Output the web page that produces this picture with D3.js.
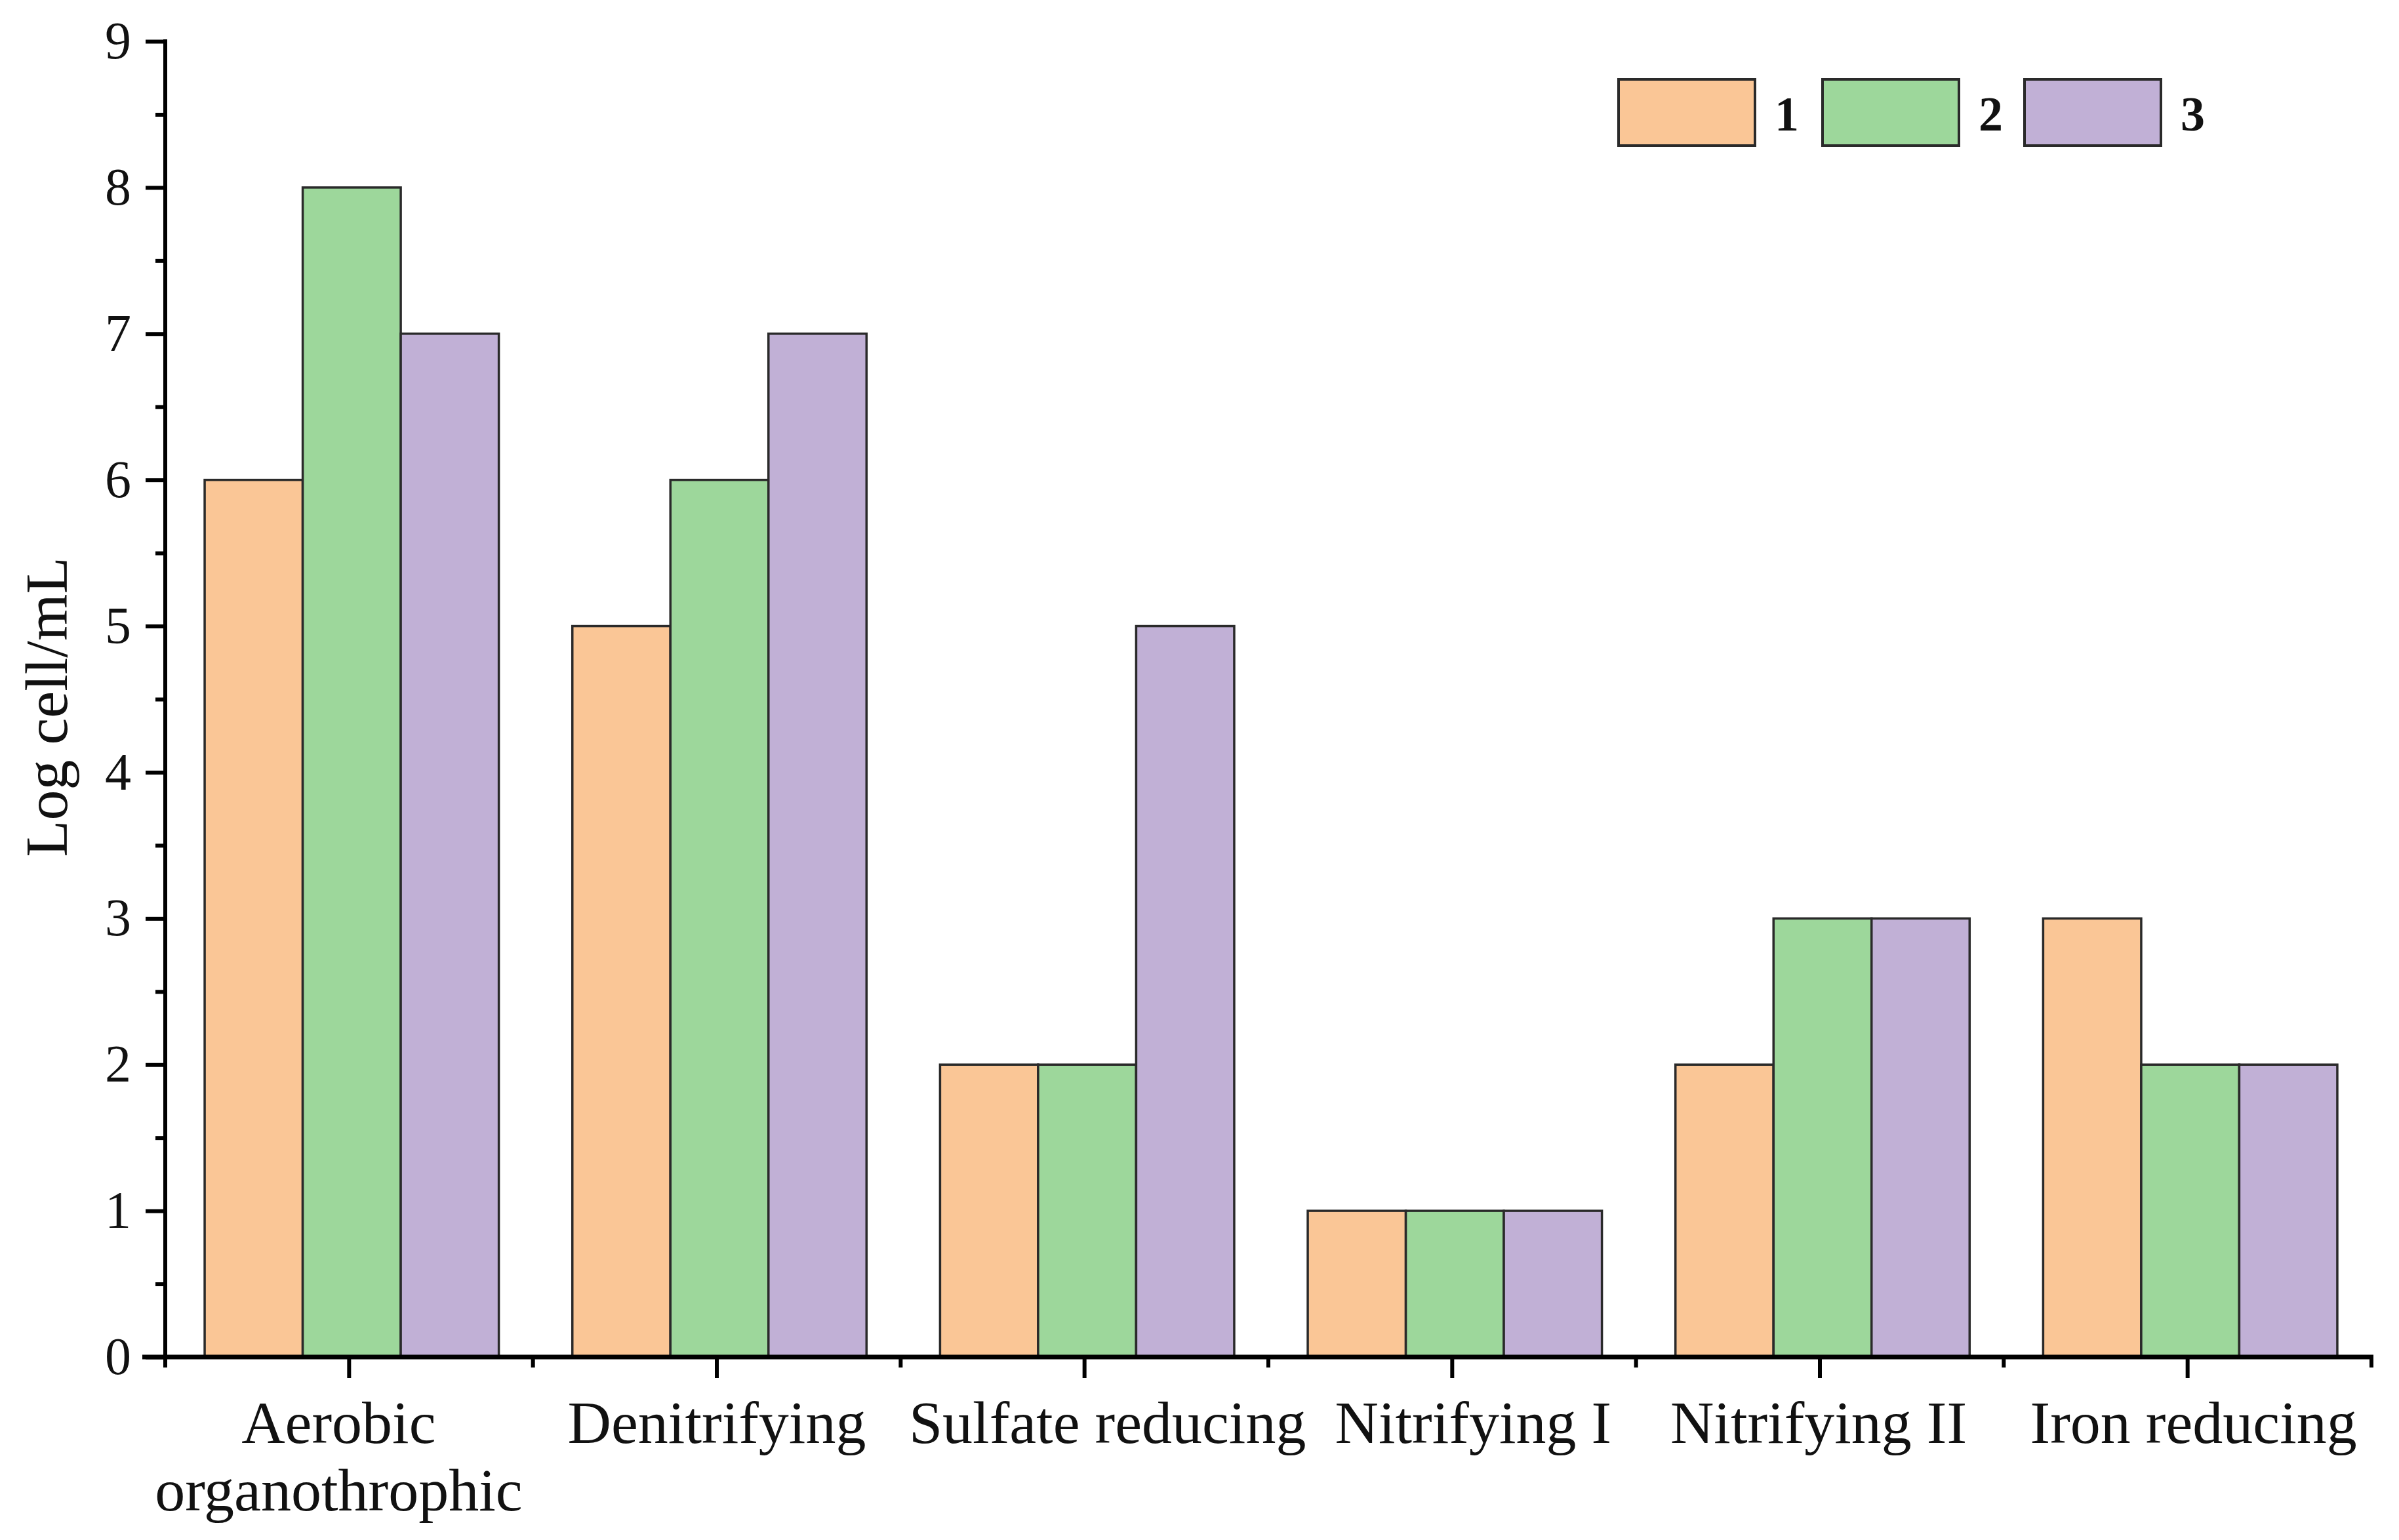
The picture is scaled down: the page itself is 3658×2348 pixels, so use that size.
<!DOCTYPE html>
<html>
<head>
<meta charset="utf-8">
<script src="https://cdn.jsdelivr.net/npm/d3@7"></script>
<style>
  html, body { margin: 0; padding: 0; background: #ffffff; }
  svg { display: block; }
</style>
</head>
<body>
<svg id="chart" width="3658" height="2348"></svg>
<script>
const categories = ["Aerobic organothrophic", "Denitrifying", "Sulfate reducing", "Nitrifying I", "Nitrifying II", "Iron reducing"];
const categoryLines = [["Aerobic", "organothrophic"], ["Denitrifying"], ["Sulfate reducing"], ["Nitrifying I"], ["Nitrifying II"], ["Iron reducing"]];
const seriesNames = ["1", "2", "3"];
const series1 = [6, 5, 2, 1, 2, 3];
const series2 = [8, 6, 2, 1, 3, 2];
const series3 = [7, 7, 5, 1, 3, 2];
const yTicks = [0, 1, 2, 3, 4, 5, 6, 7, 8, 9];
const yMinorTicks = [0.5, 1.5, 2.5, 3.5, 4.5, 5.5, 6.5, 7.5, 8.5];
const colors = ["#FAC696", "#9DD79B", "#C1B0D6"];
const yLabel = "Log cell/mL";

(function () {
const seriesValues = [series1, series2, series3];
const svg = d3.select("#chart");
const mLeft = 252, mRight = 3616, mTop = 63, mBottom = 2069;
const FONT = "'Liberation Serif', 'Times New Roman', serif";
const labelShift = [-16, 0, 35, 32, -2, 9];

const x = d3.scaleBand().domain(categories).range([mLeft, mRight]).paddingInner(0).paddingOuter(0);
const bw = x.bandwidth();
const x1 = d3.scaleBand().domain(seriesNames).range([0.1 * bw + 4, 0.9 * bw + 4]).padding(0);
const y = d3.scaleLinear().domain([0, 9]).range([mBottom, mTop]);

// bars
const groups = svg.append("g").selectAll("g")
  .data(categories).join("g")
  .attr("transform", d => `translate(${x(d)},0)`);
groups.selectAll("rect")
  .data((d, i) => seriesNames.map((s, j) => ({ s, v: seriesValues[j][i], j })))
  .join("rect")
  .attr("x", d => x1(d.s))
  .attr("width", x1.bandwidth())
  .attr("y", d => y(d.v))
  .attr("height", d => y(0) - y(d.v))
  .attr("fill", d => colors[d.j])
  .attr("stroke", "#2a2a2a")
  .attr("stroke-width", 3.5);

// y axis
const yAxis = svg.append("g").attr("transform", `translate(${mLeft},0)`)
  .call(d3.axisLeft(y).tickValues(yTicks).tickFormat(d3.format("d")).tickSize(30).tickPadding(22));
yAxis.select(".domain").remove();
yAxis.selectAll(".tick line").attr("stroke", "#000").attr("stroke-width", 6);
yAxis.selectAll(".tick text").attr("font-family", FONT).attr("font-size", 80).attr("fill", "#111");
svg.append("g").attr("transform", `translate(${mLeft},0)`)
  .call(d3.axisLeft(y).tickValues(yMinorTicks).tickFormat("").tickSize(15))
  .call(g => g.select(".domain").remove())
  .selectAll(".tick line").attr("stroke", "#000").attr("stroke-width", 6);
svg.append("line").attr("x1", mLeft).attr("x2", mLeft).attr("y1", mTop - 3).attr("y2", mBottom + 16)
  .attr("stroke", "#000").attr("stroke-width", 6);

// x axis
const xAxis = svg.append("g").attr("transform", `translate(0,${mBottom})`)
  .call(d3.axisBottom(x).tickSize(32).tickFormat(""));
xAxis.select(".domain").remove();
xAxis.selectAll(".tick line").attr("stroke", "#000").attr("stroke-width", 6);
const boundaries = d3.range(categories.length + 1).map(i => mLeft + i * x.step());
svg.append("g").selectAll("line").data(boundaries).join("line")
  .attr("x1", d => d).attr("x2", d => d).attr("y1", mBottom).attr("y2", mBottom + 16)
  .attr("stroke", "#000").attr("stroke-width", 6);
svg.append("line").attr("x1", mLeft - 35).attr("x2", mRight + 3).attr("y1", mBottom).attr("y2", mBottom)
  .attr("stroke", "#000").attr("stroke-width", 7);

// x labels (one text element per line)
const labelData = [];
categories.forEach((c, i) => categoryLines[i].forEach((line, k) => labelData.push({ c, i, k, line })));
svg.append("g").selectAll("text").data(labelData).join("text")
  .attr("text-anchor", "middle")
  .attr("font-family", FONT).attr("font-size", 92).attr("fill", "#111")
  .attr("x", d => x(d.c) + bw / 2 + labelShift[d.i])
  .attr("y", d => 2200 + d.k * 103)
  .text(d => d.line);

// y label
svg.append("text")
  .attr("transform", `translate(102,1078) rotate(-90)`)
  .attr("text-anchor", "middle")
  .attr("font-family", FONT).attr("font-size", 92).attr("fill", "#111")
  .text(yLabel);

// legend
const legX = [2468, 2779, 3087];
const leg = svg.append("g").selectAll("g").data(seriesNames).join("g");
leg.append("rect")
  .attr("x", (d, i) => legX[i]).attr("y", 121).attr("width", 208).attr("height", 101)
  .attr("fill", (d, i) => colors[i]).attr("stroke", "#2a2a2a").attr("stroke-width", 4);
leg.append("text")
  .attr("x", (d, i) => legX[i] + 238).attr("y", 199)
  .attr("font-family", FONT).attr("font-weight", "bold").attr("font-size", 74).attr("fill", "#111")
  .text(d => d);
})();
</script>
</body>
</html>
